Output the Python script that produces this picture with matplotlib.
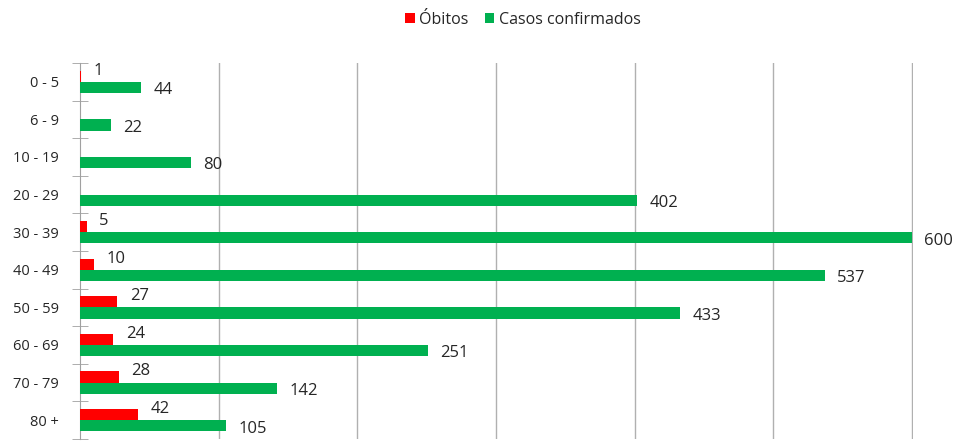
import matplotlib.pyplot as plt
import numpy as np

faixas = ['0 - 5', '6 - 9', '10 - 19', '20 - 29', '30 - 39', '40 - 49',
          '50 - 59', '60 - 69', '70 - 79', '80 +']
obitos = [1, 0, 0, 0, 5, 10, 27, 24, 28, 42]
casos = [44, 22, 80, 402, 600, 537, 433, 251, 142, 105]

red = '#ff0000'
green = '#00b050'
txt = '#262626'

plt.rcParams['font.family'] = ['Open Sans', 'DejaVu Sans']

fig = plt.figure(figsize=(9.56, 4.41), dpi=100)
ax = fig.add_axes([80 / 956, 2 / 441, 833 / 956, 376 / 441])

y = np.arange(len(faixas))
h = 0.3
ax.barh(y - h / 2, obitos, height=h, color=red, label='Óbitos', zorder=3)
ax.barh(y + h / 2, casos, height=h, color=green, label='Casos confirmados', zorder=3)

for yi, v in zip(y, obitos):
    if v > 0:
        ax.annotate(str(v), (v, yi - h / 2), xytext=(9, 4), textcoords='offset points',
                    va='center', ha='left', fontsize=12, color=txt)
for yi, v in zip(y, casos):
    ax.annotate(str(v), (v, yi + h / 2), xytext=(9, -2), textcoords='offset points',
                va='center', ha='left', fontsize=12, color=txt, annotation_clip=False)

ax.set_xlim(0, 600.8)
ax.set_ylim(len(faixas) - 0.5, -0.5)
ax.set_xticks(np.arange(100, 601, 100))
ax.tick_params(axis='x', length=0, labelbottom=False)
ax.grid(axis='x', color='#b0b0b0', linewidth=1, zorder=0)

ax.set_yticks(y)
ax.set_yticklabels(faixas, fontsize=10.5, color=txt)
ax.set_yticks(np.arange(-0.5, len(faixas), 1), minor=True)
ax.tick_params(axis='y', which='major', length=0, pad=15)
ax.tick_params(axis='y', which='minor', length=11, direction='inout', color='#a0a0a0')

for s in ['top', 'right', 'bottom']:
    ax.spines[s].set_visible(False)
ax.spines['left'].set_color('#a0a0a0')

fig.legend(loc='center', bbox_to_anchor=(523 / 956, 1 - 20 / 441), ncol=2, frameon=False,
           fontsize=11.5, handlelength=0.6, handleheight=0.6, handletextpad=0.3,
           columnspacing=1.0, labelcolor=txt)

fig.savefig('out.png', dpi=100)
